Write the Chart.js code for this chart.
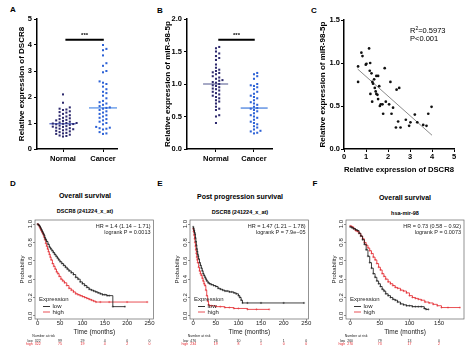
<!DOCTYPE html>
<html><head><meta charset="utf-8">
<script src="https://cdn.jsdelivr.net/npm/chart.js@4/dist/chart.umd.min.js"></script>
<style>
html,body{margin:0;padding:0;background:#fff}
body{width:474px;height:350px;position:relative;overflow:hidden;font-family:'Liberation Sans',Arial,sans-serif;color:#000}
canvas{position:absolute}
.t{position:absolute;white-space:nowrap;transform:translate(-50%,-50%);line-height:1}
.L{font-weight:bold;font-size:8px}
.h1{font-weight:bold;font-size:7px}
.h2{font-weight:bold;font-size:5.5px}
</style></head><body>
<div class="t L" style="left:13px;top:10px">A</div>
<div class="t L" style="left:160px;top:11px">B</div>
<div class="t L" style="left:314px;top:11px">C</div>
<div class="t L" style="left:13px;top:184px">D</div>
<div class="t L" style="left:160px;top:184px">E</div>
<div class="t L" style="left:315px;top:184px">F</div>
<div class="t h1" style="left:85px;top:195px">Overall survival</div>
<div class="t h2" style="left:85px;top:212px">DSCR8 (241224_x_at)</div>
<div class="t h1" style="left:240px;top:196px">Post progression survival</div>
<div class="t h2" style="left:240px;top:213px">DSCR8 (241224_x_at)</div>
<div class="t h1" style="left:405px;top:197px">Overall survival</div>
<div class="t h2" style="left:405px;top:214px">hsa-mir-98</div>

<canvas id="cA" width="155" height="175" style="left:0;top:0"></canvas>
<canvas id="cB" width="155" height="175" style="left:155px;top:0"></canvas>
<canvas id="cC" width="164" height="175" style="left:310px;top:0"></canvas>
<canvas id="cD" width="158" height="175" style="left:0;top:175px"></canvas>
<canvas id="cE" width="155" height="175" style="left:158px;top:175px"></canvas>
<canvas id="cF" width="161" height="175" style="left:313px;top:175px"></canvas>

<script>
// ---------- data ----------
const groupLabels = ['Normal', 'Cancer'];
const dscr8Normal = [2.1, 1.78, 1.6, 1.55, 1.52, 1.5, 1.45, 1.42, 1.4, 1.35, 1.3, 1.28, 1.25, 1.2, 1.18, 1.15, 1.12, 1.1, 1.08, 1.05, 1.02, 1.0, 1.0, 0.98, 0.97, 0.96, 0.95, 0.93, 0.9, 0.88, 0.86, 0.85, 0.82, 0.8, 0.78, 0.76, 0.75, 0.72, 0.7, 0.68, 0.65, 0.62, 0.6, 0.58, 0.55, 0.52, 0.5, 0.48];
const dscr8Cancer = [4.0, 3.85, 3.8, 3.6, 3.3, 3.2, 3.0, 2.95, 2.6, 2.55, 2.5, 2.4, 2.3, 2.2, 2.15, 2.05, 1.95, 1.85, 1.8, 1.75, 1.7, 1.65, 1.6, 1.58, 1.55, 1.5, 1.45, 1.4, 1.35, 1.3, 1.25, 1.2, 1.15, 1.1, 1.05, 1.0, 0.95, 0.85, 0.82, 0.8, 0.78, 0.75, 0.65, 0.6, 0.58];
const mir98Normal = [1.57, 1.55, 1.5, 1.47, 1.43, 1.4, 1.37, 1.3, 1.25, 1.22, 1.2, 1.18, 1.17, 1.15, 1.12, 1.1, 1.08, 1.06, 1.05, 1.03, 1.02, 1.0, 0.98, 0.97, 0.95, 0.93, 0.92, 0.9, 0.88, 0.86, 0.84, 0.82, 0.8, 0.78, 0.75, 0.73, 0.7, 0.65, 0.62, 0.6, 0.52, 0.5, 0.4];
const mir98Cancer = [1.17, 1.15, 1.12, 1.08, 1.0, 0.98, 0.97, 0.95, 0.92, 0.88, 0.85, 0.82, 0.8, 0.78, 0.75, 0.72, 0.7, 0.68, 0.65, 0.63, 0.62, 0.6, 0.58, 0.55, 0.52, 0.5, 0.48, 0.45, 0.42, 0.4, 0.38, 0.35, 0.33, 0.3, 0.28, 0.27, 0.25, 0.24];
const medianDscr8 = [0.97, 1.58];
const medianMir98 = [1.0, 0.63];
const sigDscr8 = 4.2;
const sigMir98 = 1.68;

const corrDscr8 = [0.64, 0.64, 0.79, 0.84, 1.14, 1.02, 0.99, 1.19, 1.17, 1.25, 1.29, 1.32, 1.47, 1.55, 1.37, 1.40, 1.44, 1.47, 1.52, 1.20, 1.28, 1.60, 1.55, 1.63, 1.67, 1.75, 1.78, 1.85, 1.90, 2.05, 2.11, 2.16, 2.23, 2.39, 2.51, 2.36, 2.46, 2.57, 2.81, 2.96, 3.02, 3.22, 3.33, 3.60, 3.75, 3.83, 3.98];
const corrMir98 = [0.96, 0.78, 1.12, 1.08, 1.17, 0.99, 0.98, 1.00, 0.91, 0.88, 0.78, 0.76, 0.85, 0.85, 0.81, 0.71, 0.67, 0.64, 0.63, 0.64, 0.55, 0.73, 0.58, 0.50, 0.52, 0.52, 0.41, 0.94, 0.55, 0.52, 0.78, 0.41, 0.48, 0.69, 0.71, 0.25, 0.32, 0.25, 0.34, 0.27, 0.31, 0.40, 0.31, 0.28, 0.27, 0.41, 0.49];
const fitDscr8 = [0.62, 4.0];
const fitMir98 = [0.93, 0.16];

const kmTicks250 = [0, 50, 100, 150, 200, 250];
const kmTicks150 = [0, 50, 100, 150];
const probTicks = [0, 0.2, 0.4, 0.6, 0.8, 1.0];

const osLowT  = [0,2,4,6,8,10,12,14,16,18,20,23,26,29,32,35,38,41,44,47,50,54,58,62,66,70,75,80,85,90,95,100,105,110,115,120,125,130,135,140,145,150,155,160,168,195];
const osLowS  = [1.0,0.99,0.98,0.96,0.94,0.92,0.9,0.88,0.85,0.83,0.81,0.78,0.75,0.73,0.71,0.69,0.67,0.65,0.63,0.61,0.59,0.57,0.55,0.53,0.51,0.49,0.47,0.45,0.42,0.40,0.37,0.35,0.33,0.31,0.29,0.28,0.27,0.26,0.25,0.24,0.23,0.23,0.22,0.22,0.10,0.10];
const osHighT = [0,2,4,6,8,10,12,14,16,18,20,22,24,26,28,30,33,36,39,42,45,48,52,56,60,65,70,75,80,85,90,95,100,105,110,115,120,125,130,140,160,200,245];
const osHighS = [1.0,0.99,0.97,0.95,0.93,0.91,0.89,0.86,0.83,0.79,0.76,0.73,0.70,0.67,0.64,0.61,0.57,0.54,0.51,0.48,0.46,0.43,0.40,0.38,0.36,0.33,0.30,0.28,0.26,0.24,0.23,0.22,0.21,0.20,0.19,0.18,0.17,0.16,0.15,0.15,0.15,0.15,0.15];

const ppsLowT  = [0,1,2,3,4,5,6,7,8,9,10,11,12,14,16,18,20,22,24,26,28,30,33,36,40,45,50,55,60,65,70,75,80,85,90,95,100,103,106,109,120,150,200,245];
const ppsLowS  = [0.97,0.95,0.93,0.91,0.89,0.85,0.81,0.77,0.73,0.70,0.67,0.65,0.62,0.58,0.55,0.52,0.49,0.46,0.44,0.42,0.40,0.38,0.36,0.35,0.34,0.33,0.32,0.30,0.29,0.28,0.27,0.27,0.26,0.26,0.25,0.24,0.22,0.20,0.17,0.14,0.14,0.14,0.14,0.14];
const ppsHighT = [0,1,2,3,4,5,6,7,8,9,10,12,14,16,18,20,22,24,26,28,30,32,34,36,40,50,60,70,80,90,100,120,140,168];
const ppsHighS = [0.95,0.92,0.88,0.84,0.80,0.76,0.72,0.68,0.64,0.61,0.58,0.53,0.49,0.46,0.44,0.41,0.38,0.35,0.33,0.28,0.22,0.16,0.12,0.11,0.11,0.10,0.10,0.09,0.09,0.08,0.08,0.07,0.07,0.07];

const mirLowT  = [0,3,6,9,12,15,18,21,24,27,30,33,36,39,42,45,48,51,54,57,60,64,68,72,76,80,85,90,95,100,105,110,115,120,125,128,132];
const mirLowS  = [0.97,0.96,0.95,0.94,0.93,0.90,0.87,0.83,0.78,0.72,0.65,0.58,0.52,0.46,0.42,0.38,0.35,0.32,0.29,0.27,0.24,0.22,0.20,0.18,0.17,0.15,0.13,0.12,0.11,0.11,0.10,0.10,0.10,0.10,0.08,0.07,0.07];
const mirHighT = [0,3,6,9,12,15,18,21,24,27,30,33,36,39,42,45,48,51,54,57,60,64,68,72,76,80,85,90,95,100,105,110,115,120,126,133,140,147,154,165,185];
const mirHighS = [0.98,0.97,0.95,0.93,0.92,0.90,0.87,0.84,0.80,0.77,0.74,0.71,0.68,0.64,0.61,0.57,0.53,0.50,0.46,0.43,0.40,0.37,0.35,0.33,0.31,0.30,0.28,0.27,0.25,0.22,0.20,0.19,0.18,0.17,0.15,0.14,0.125,0.11,0.09,0.09,0.09];

const riskOsLow  = [322, 99, 29, 4, 0, 0];
const riskOsHigh = [322, 75, 19, 4, 2, 0];
const riskPpsLow  = [476, 26, 10, 1, 1, 0];
const riskPpsHigh = [234, 19, 8, 1, 0, 0];
const riskMirLow  = [260, 79, 13, 0];
const riskMirHigh = [270, 73, 17, 2];

// ---------- helpers ----------
const FONT = "'Liberation Sans', Arial, sans-serif";
Chart.defaults.font.family = FONT;
Chart.defaults.color = '#000';
const RED = '#e3242b';

function swarm(vals, center, dx, dy) {
  const placed = [];
  vals.slice().sort((a, b) => a - b).forEach(v => {
    for (let k = 0; k < 80; k++) {
      const off = k === 0 ? 0 : (k % 2 ? 1 : -1) * Math.ceil(k / 2) * dx;
      if (!placed.some(p => Math.abs(p.x - off) < dx * 0.99 && Math.abs(p.y - v) < dy)) {
        placed.push({x: off, y: v}); break;
      }
    }
  });
  return placed.map(p => ({x: center + p.x, y: p.y}));
}
const seg = (x0, x1, y) => [{x: x0, y: y}, {x: x1, y: y}];

const sigPlugin = {
  id: 'sigText',
  afterDatasetsDraw(chart) {
    const {ctx, scales: {x, y}} = chart;
    chart.data.datasets.forEach(ds => {
      if (!ds.sig) return;
      const px = (x.getPixelForValue(ds.data[0].x) + x.getPixelForValue(ds.data[1].x)) / 2;
      const py = y.getPixelForValue(ds.data[0].y);
      ctx.save();
      ctx.fillStyle = '#000';
      ctx.font = 'bold 6px ' + FONT;
      ctx.textAlign = 'center'; ctx.textBaseline = 'alphabetic';
      ctx.fillText('***', px, py - 2.5);
      ctx.restore();
    });
  }
};

function dotChart(id, normal, cancer, medians, sigY, yMax, yStep, yTitle, xMin, xMax, dy, medColors, yWidth, padLeft, yDecimals) {
  new Chart(document.getElementById(id), {
    type: 'scatter',
    data: { datasets: [
      {data: swarm(normal, 1, 0.085, dy), pointStyle: 'rect', pointRadius: 1.45, backgroundColor: '#2e2a6e', borderWidth: 0},
      {data: swarm(cancer, 2, 0.085, dy), pointStyle: 'rect', pointRadius: 1.45, backgroundColor: '#2d62d6', borderWidth: 0},
      {data: seg(0.66, 1.32, medians[0]), showLine: true, borderColor: medColors[0], borderWidth: 1.2, pointRadius: 0},
      {data: seg(1.65, 2.36, medians[1]), showLine: true, borderColor: medColors[1], borderWidth: 1.2, pointRadius: 0},
      {data: seg(1.06, 2.02, sigY), showLine: true, borderColor: '#000', borderWidth: 2, pointRadius: 0, sig: true}
    ]},
    options: {
      responsive: false, animation: false, events: [],
      layout: {padding: {left: padLeft, right: 38, top: 19, bottom: 0}},
      plugins: {legend: {display: false}, tooltip: {enabled: false}},
      scales: {
        x: {type: 'linear', min: xMin, max: xMax,
            afterBuildTicks: s => { s.ticks = [{value: 1}, {value: 2}]; },
            ticks: {callback: (v, i) => groupLabels[i], font: {size: 7.5, weight: 'bold'}, padding: 2, autoSkip: false, maxRotation: 0},
            grid: {drawOnChartArea: false, tickLength: 3, color: '#000', lineWidth: 1},
            border: {color: '#000', width: 1.5},
            afterFit: s => { s.height = 26; }},
        y: {min: 0, max: yMax,
            ticks: {stepSize: yStep, callback: v => v.toFixed(yDecimals), font: {size: 7.5, weight: 'bold'}, padding: 2},
            grid: {drawOnChartArea: false, tickLength: 3, color: '#000', lineWidth: 1},
            border: {color: '#000', width: 1.5},
            title: {display: true, text: yTitle, font: {size: 8, weight: 'bold'}},
            afterFit: s => { s.width = yWidth; }}
      }
    },
    plugins: [sigPlugin]
  });
}

dotChart('cA', dscr8Normal, dscr8Cancer, medianDscr8, sigDscr8, 5, 1, 'Relative expression of DSCR8', 0.35, 2.35, 0.11, ['#4a5fc1', '#4d8be6'], 24, 13, 0);
dotChart('cB', mir98Normal, mir98Cancer, medianMir98, sigMir98, 2, 0.5, 'Relative expression of miR-98-5p', 0.237, 2.474, 0.045, ['#6b6f9e', '#3c78dc'], 28, 4, 1);

// ---------- C ----------
const r2Plugin = {
  id: 'r2',
  afterDraw(chart) {
    const {ctx, scales: {x, y}} = chart;
    const px = x.getPixelForValue(3.0), py = y.getPixelForValue(1.37);
    ctx.save();
    ctx.fillStyle = '#000'; ctx.textBaseline = 'middle'; ctx.textAlign = 'left';
    ctx.font = '7.5px ' + FONT;
    ctx.fillText('R', px, py);
    let w = ctx.measureText('R').width;
    ctx.font = '5px ' + FONT;
    ctx.fillText('2', px + w, py - 2.5);
    w += ctx.measureText('2').width;
    ctx.font = '7.5px ' + FONT;
    ctx.fillText('=0.5973', px + w, py);
    ctx.fillText('P<0.001', px, py + 7.5);
    ctx.restore();
  }
};
new Chart(document.getElementById('cC'), {
  type: 'scatter',
  data: { datasets: [
    {data: corrDscr8.map((v, i) => ({x: v, y: corrMir98[i]})), pointRadius: 1.35, backgroundColor: '#111', borderWidth: 0},
    {data: fitDscr8.map((v, i) => ({x: v, y: fitMir98[i]})), showLine: true, borderColor: '#8a8a8a', borderWidth: 1, pointRadius: 0}
  ]},
  options: {
    responsive: false, animation: false, events: [],
    layout: {padding: {left: 4, right: 20, top: 20, bottom: 0}},
    plugins: {legend: {display: false}, tooltip: {enabled: false}},
    scales: {
      x: {type: 'linear', min: 0, max: 5,
          ticks: {stepSize: 1, font: {size: 7.5, weight: 'bold'}, padding: 0, maxRotation: 0},
          grid: {drawOnChartArea: false, tickLength: 3, color: '#000'},
          border: {color: '#000', width: 1.5},
          title: {display: true, text: 'Relative expression of DSCR8', font: {size: 8, weight: 'bold'}, padding: 0},
          afterFit: s => { s.height = 26; }},
      y: {min: 0, max: 1.5,
          ticks: {stepSize: 0.5, callback: v => v.toFixed(1), font: {size: 7.5, weight: 'bold'}, padding: 1},
          grid: {drawOnChartArea: false, tickLength: 3, color: '#000'},
          border: {color: '#000', width: 1.5},
          title: {display: true, text: 'Relative expression of miR-98-5p', font: {size: 8, weight: 'bold'}},
          afterFit: s => { s.width = 30; }}
    }
  },
  plugins: [r2Plugin]
});

// ---------- KM ----------
const kmAnnot = {
  id: 'kmAnnot',
  afterDraw(chart, args, o) {
    const {ctx, chartArea: a, scales: {x, y}} = chart;
    ctx.save();
    ctx.strokeStyle = '#666'; ctx.lineWidth = 0.7;
    ctx.strokeRect(a.left, a.top, a.right - a.left, a.bottom - a.top);
    ctx.fillStyle = '#222'; ctx.textBaseline = 'middle';
    ctx.font = '6px ' + FONT; ctx.textAlign = 'center';
    y.ticks.forEach(t => {
      ctx.save();
      ctx.translate(a.left - 5, y.getPixelForValue(t.value));
      ctx.rotate(-Math.PI / 2);
      ctx.fillText(t.value.toFixed(1), 0, 0);
      ctx.restore();
    });
    ctx.textAlign = 'right'; ctx.font = '5.5px ' + FONT;
    ctx.fillText(o.hr, a.right - 3, a.top + 6);
    ctx.fillText(o.p, a.right - 3, a.top + 12);
    // legend
    ctx.textAlign = 'left'; ctx.font = '6px ' + FONT;
    ctx.fillText('Expression', a.left + 4, a.bottom - 20);
    ctx.fillText('low', a.left + 17.5, a.bottom - 12.5);
    ctx.fillText('high', a.left + 17.5, a.bottom - 7);
    ctx.lineWidth = 0.8;
    ctx.strokeStyle = '#000'; ctx.beginPath(); ctx.moveTo(a.left + 8, a.bottom - 12.5); ctx.lineTo(a.left + 15, a.bottom - 12.5); ctx.stroke();
    ctx.strokeStyle = RED; ctx.beginPath(); ctx.moveTo(a.left + 8, a.bottom - 7); ctx.lineTo(a.left + 15, a.bottom - 7); ctx.stroke();
    // number at risk
    const x0 = x.getPixelForValue(0);
    ctx.font = '3.5px ' + FONT; ctx.textAlign = 'center'; ctx.fillStyle = '#222';
    ctx.fillText('Number at risk', x0 + 6, 161);
    ctx.textAlign = 'right';
    ctx.fillText('low', x0 - 5, 166);
    ctx.fillStyle = RED; ctx.fillText('high', x0 - 5, 169.3);
    ctx.textAlign = 'center';
    o.ticks.forEach((t, i) => {
      const px = x.getPixelForValue(t);
      ctx.fillStyle = '#222'; ctx.fillText(String(o.low[i]), px, 166);
      ctx.fillStyle = RED; ctx.fillText(String(o.high[i]), px, 169.3);
    });
    ctx.restore();
  }
};

function kmChart(id, lowT, lowS, highT, highS, xMin, xMax, xTicks, padLeft, yWidth, padRight, hr, p, rLow, rHigh) {
  const line = (T, S, c) => ({data: T.map((t, i) => ({x: t, y: S[i]})), borderColor: c, borderWidth: 0.8, stepped: true,
    pointStyle: 'cross', pointRadius: 1.1, pointBorderWidth: 0.45, pointBorderColor: c, backgroundColor: c, fill: false});
  new Chart(document.getElementById(id), {
    type: 'line',
    data: {datasets: [line(lowT, lowS, '#111'), line(highT, highS, RED)]},
    options: {
      responsive: false, animation: false, events: [],
      layout: {padding: {left: padLeft, right: padRight, top: 45, bottom: 14}},
      plugins: {legend: {display: false}, tooltip: {enabled: false},
        kmAnnot: {hr: hr, p: p, low: rLow, high: rHigh, ticks: xTicks}},
      scales: {
        x: {type: 'linear', min: xMin, max: xMax,
            afterBuildTicks: s => { s.ticks = xTicks.map(v => ({value: v})); },
            ticks: {font: {size: 6}, color: '#222', padding: -1, maxRotation: 0, autoSkip: false},
            grid: {drawOnChartArea: false, tickLength: 2, color: '#444', lineWidth: 0.6},
            border: {display: false},
            title: {display: true, text: 'Time (months)', font: {size: 6.5}, color: '#222', padding: 0},
            afterFit: s => { s.height = 17; }},
        y: {type: 'linear', min: -0.035, max: 1.045,
            afterBuildTicks: s => { s.ticks = probTicks.map(v => ({value: v})); },
            ticks: {display: false},
            grid: {drawOnChartArea: false, tickLength: 2, color: '#444', lineWidth: 0.6},
            border: {display: false},
            title: {display: true, text: 'Probability', font: {size: 6}, color: '#222', padding: 0},
            afterFit: s => { s.width = yWidth; }}
      }
    },
    plugins: [kmAnnot]
  });
}

kmChart('cD', osLowT, osLowS, osHighT, osHighS, -6, 259, kmTicks250, 19, 16, 2, 'HR = 1.4 (1.14 \u2212 1.71)', 'logrank P = 0.0013', riskOsLow, riskOsHigh);
kmChart('cE', ppsLowT, ppsLowS, ppsHighT, ppsHighS, -7, 255, kmTicks250, 16, 16, 3, 'HR = 1.47 (1.21 \u2212 1.78)', 'logrank P = 7.9e\u221205', riskPpsLow, riskPpsHigh);
kmChart('cF', mirLowT, mirLowS, mirHighT, mirHighS, -7, 192, kmTicks150, 18, 15, 10, 'HR = 0.73 (0.58 \u2212 0.92)', 'logrank P = 0.0073', riskMirLow, riskMirHigh);
</script>
</body></html>
